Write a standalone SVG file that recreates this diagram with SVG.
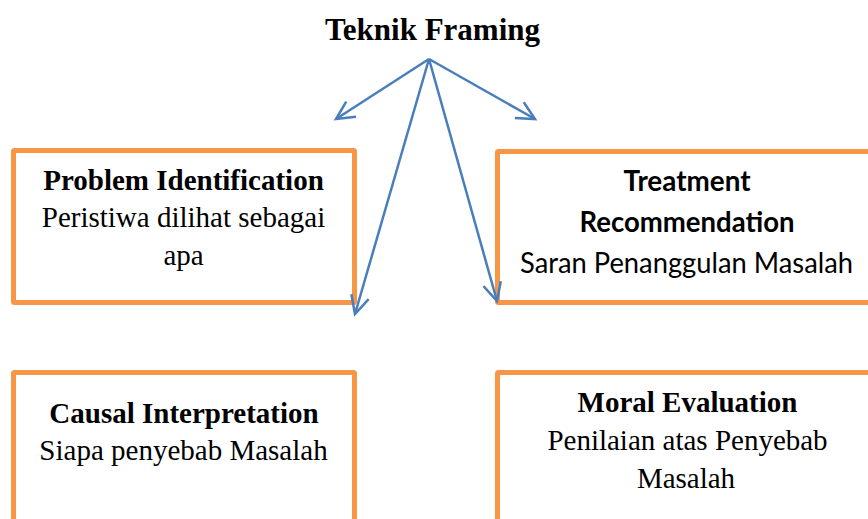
<svg xmlns="http://www.w3.org/2000/svg" width="868" height="519" viewBox="0 0 868 519">
<style>
.box{fill:#fff;stroke:#F79646;stroke-width:5;}
.tb{font-family:"Liberation Serif","Times New Roman",serif;font-size:29px;font-weight:bold;fill:#000;text-anchor:middle;}
.tr{font-family:"Liberation Serif","Times New Roman",serif;font-size:29px;fill:#000;text-anchor:middle;}
.cb{font-family:Lato,"Liberation Sans",sans-serif;font-size:28px;font-weight:bold;fill:#000;text-anchor:middle;}
.cr{font-family:Lato,"Liberation Sans",sans-serif;font-size:28px;fill:#000;text-anchor:middle;}
.conn{stroke:#4A7EBB;stroke-width:2.5;fill:none;marker-end:url(#arr);}
</style>
<defs>
<marker id="arr" markerUnits="userSpaceOnUse" viewBox="-22 -12 26 24" refX="0" refY="0" markerWidth="26" markerHeight="24" orient="auto" overflow="visible">
<path d="M-18,-9 L0,0 L-18,9" fill="none" stroke="#4A7EBB" stroke-width="2.5" stroke-linejoin="miter"/>
</marker>
</defs>
<rect width="868" height="519" fill="#fff"/>
<g id="title">
<text x="432.5" y="40" class="tb" style="font-size:31px">Teknik Framing</text>
</g>
<g id="problem-identification">
<rect class="box" x="13.5" y="150.5" width="341" height="152" rx="1"/>
<text x="183.5" y="190" class="tb">Problem Identification</text>
<text x="183.5" y="227" class="tr">Peristiwa dilihat sebagai</text>
<text x="183.5" y="265" class="tr">apa</text>
</g>
<g id="treatment-recommendation">
<rect class="box" x="497.5" y="151.5" width="385" height="151" rx="1"/>
<text x="687" y="191" class="cb" textLength="127" lengthAdjust="spacingAndGlyphs">Treatment</text>
<text x="687" y="232" class="cb" textLength="215" lengthAdjust="spacingAndGlyphs">Recommendation</text>
<text x="686.5" y="273" class="cr" textLength="333" lengthAdjust="spacingAndGlyphs">Saran Penanggulan Masalah</text>
</g>
<g id="causal-interpretation">
<rect class="box" x="13.5" y="372.5" width="341" height="160" rx="1"/>
<text x="184" y="423" class="tb">Causal Interpretation</text>
<text x="183.5" y="460" class="tr">Siapa penyebab Masalah</text>
</g>
<g id="moral-evaluation">
<rect class="box" x="497.5" y="372.5" width="385" height="160" rx="1"/>
<text x="687.5" y="412" class="tb">Moral Evaluation</text>
<text x="687.5" y="450" class="tr">Penilaian atas Penyebab</text>
<text x="686" y="488" class="tr">Masalah</text>
</g>
<g id="connectors">
<line class="conn" x1="429" y1="59" x2="336" y2="119"/>
<line class="conn" x1="429" y1="59" x2="535" y2="119"/>
<line class="conn" x1="429" y1="59" x2="355" y2="314"/>
<line class="conn" x1="429" y1="59" x2="497" y2="301"/>
</g>
</svg>
